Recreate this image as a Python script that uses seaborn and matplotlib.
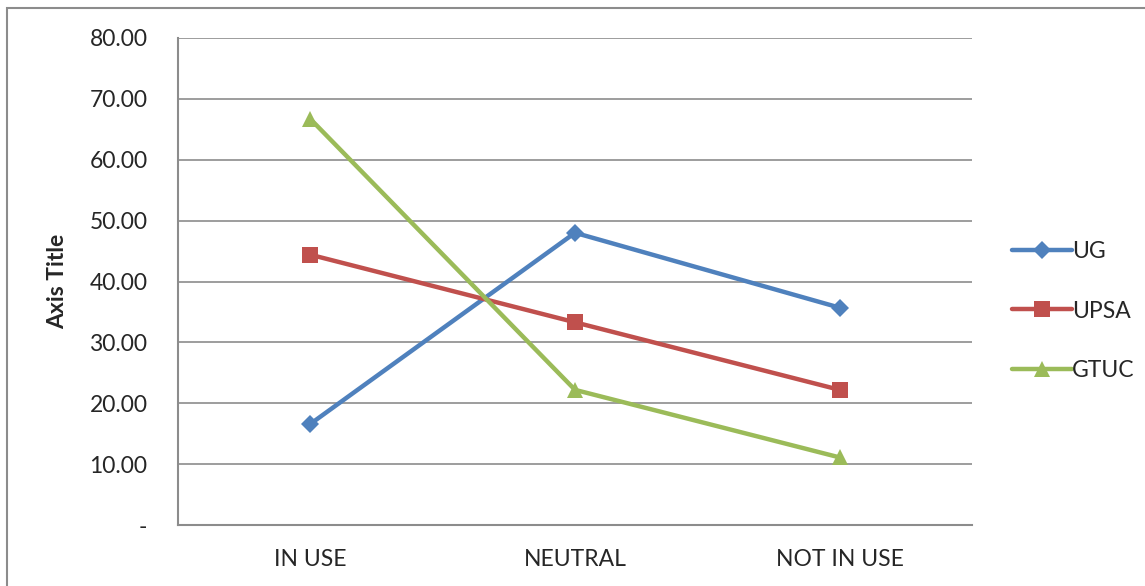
import matplotlib
import pandas as pd
import matplotlib.pyplot as plt
import matplotlib.patches as patches
import seaborn as sns

matplotlib.use('Agg')

# Data
categories = ['IN USE', 'NEUTRAL', 'NOT IN USE']
ug = [16.6, 48.0, 35.7]
upsa = [44.4, 33.3, 22.2]
gtuc = [66.7, 22.2, 11.1]
series_names = ['UG', 'UPSA', 'GTUC']
y_ticks = [0, 10, 20, 30, 40, 50, 60, 70, 80]

rows = []
for name, vals in zip(series_names, [ug, upsa, gtuc]):
    for cat, v in zip(categories, vals):
        rows.append({'category': cat, 'value': v, 'series': name})
df = pd.DataFrame(rows)

sns.set_theme(style="white")
plt.rcParams['font.family'] = ['Lato', 'DejaVu Sans']

palette = {'UG': '#4F81BD', 'UPSA': '#C0504D', 'GTUC': '#9BBB59'}
markers = {'UG': 'D', 'UPSA': 's', 'GTUC': '^'}
sizes = {'UG': 9, 'UPSA': 11, 'GTUC': 12}
fs = 16.5

fig = plt.figure(figsize=(11.45, 5.86), dpi=100)
ax = fig.add_axes([178 / 1145, 1 - 525 / 586, (972 - 178) / 1145, (525 - 38) / 586])

for name in series_names:
    sub = df[df['series'] == name]
    sns.lineplot(data=sub, x='category', y='value', ax=ax, color=palette[name],
                 marker=markers[name], markersize=sizes[name], markeredgewidth=0,
                 linewidth=3.2, label=name, sort=False)

ax.set_xlim(-0.5, 2.5)
ax.set_ylim(0, 80)
ax.set_yticks(y_ticks)
ax.set_yticklabels(['-' if t == 0 else f'{t:.2f}' for t in y_ticks], fontsize=fs)
ax.set_xticks(range(len(categories)))
ax.set_xticklabels(categories, fontsize=fs)
ax.tick_params(axis='y', length=0, pad=22)
ax.tick_params(axis='x', length=0, pad=17)
ax.set_xlabel('')
ax.set_ylabel('Axis Title', fontsize=fs, fontweight='bold', labelpad=15)

ax.grid(axis='y', color='#8C8C8C', linewidth=1.2)
ax.set_axisbelow(True)
for side in ['top', 'right']:
    ax.spines[side].set_visible(False)
for side in ['left', 'bottom']:
    ax.spines[side].set_color('#8C8C8C')
    ax.spines[side].set_linewidth(1.5)

ax.legend(loc='center left', bbox_to_anchor=(1003 / 1145, 1 - 311 / 586),
          bbox_transform=fig.transFigure, frameon=False, fontsize=fs,
          handlelength=2.6, labelspacing=1.7, handletextpad=0.0, borderaxespad=0)

# outer chart border (cropped at right and bottom)
fig.patches.append(patches.Rectangle((7 / 1145, -0.1), 1.2, 1 - 8 / 586 + 0.1,
                                     transform=fig.transFigure, fill=False,
                                     edgecolor='#8C8C8C', linewidth=1.5))

plt.savefig('out.png', dpi=100)
plt.close()
